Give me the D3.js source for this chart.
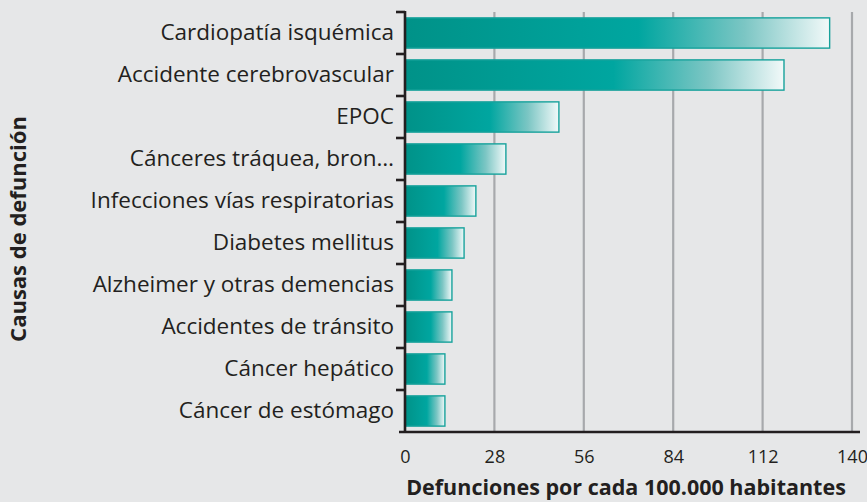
<!DOCTYPE html>
<html><head><meta charset="utf-8">
<script src="https://cdn.jsdelivr.net/npm/d3@7"></script>
<style>body{margin:0;background:#e6e7e8;}svg{display:block;}</style>
</head><body>
<svg id="c" width="867" height="502"></svg>
<script>
const categories = ["Cardiopatía isquémica","Accidente cerebrovascular","EPOC","Cánceres tráquea, bron…","Infecciones vías respiratorias","Diabetes mellitus","Alzheimer y otras demencias","Accidentes de tránsito","Cáncer hepático","Cáncer de estómago"];
const values = [133, 118.7, 48.2, 31.6, 22.2, 18.5, 14.7, 14.7, 12.5, 12.5];
const xTicks = [0, 28, 56, 84, 112, 140];
const xTitle = "Defunciones por cada 100.000 habitantes";
const yTitle = "Causas de defunción";

(function () {
const svg = d3.select("#c");
const W = 867, H = 502;
svg.append("rect").attr("width", W).attr("height", H).attr("fill", "#e6e7e8");
const pL = 405, pR = 852, pT = 12, pB = 432;
const x = d3.scaleLinear().domain([0, 140]).range([pL, pR]);
const y = d3.scaleBand().domain(categories).range([pT, pB]).paddingInner(0.28).paddingOuter(0.14);
const font = "'Open Sans', sans-serif";

const defs = svg.append("defs");
const g = defs.append("linearGradient").attr("id", "bg").attr("x1", "0").attr("x2", "1").attr("y1", "0").attr("y2", "0");
[[0, "#009288"], [0.55, "#00a6a0"], [0.8, "#7cc6c4"], [1, "#f2f9f9"]].forEach(s => g.append("stop").attr("offset", s[0]).attr("stop-color", s[1]));

svg.append("g").selectAll("line").data(xTicks.filter(d => d > 0)).join("line")
  .attr("x1", d => x(d)).attr("x2", d => x(d)).attr("y1", pT).attr("y2", pB)
  .attr("stroke", "#a7a9ac").attr("stroke-width", 2.2);

svg.append("g").selectAll("rect").data(categories).join("rect")
  .attr("x", x(0)).attr("y", d => y(d)).attr("height", y.bandwidth())
  .attr("width", (d, i) => x(values[i]) - x(0))
  .attr("fill", "url(#bg)").attr("stroke", "#17a29c").attr("stroke-width", 1.4);

const xa = svg.append("g").attr("transform", `translate(0,${pB})`)
  .call(d3.axisBottom(x).tickValues(xTicks).tickSize(0).tickPadding(18).tickFormat(d3.format("d")));
xa.select(".domain").remove();
xa.selectAll("text").attr("font-family", font).attr("font-size", 18).attr("fill", "#231f20");
svg.append("line").attr("x1", 399).attr("x2", 860).attr("y1", pB).attr("y2", pB)
  .attr("stroke", "#231f20").attr("stroke-width", 2.6);

const ya = svg.append("g").attr("transform", `translate(${pL},0)`)
  .call(d3.axisLeft(y).tickSize(0).tickPadding(11));
ya.select(".domain").remove();
ya.selectAll("text").attr("font-family", font).attr("font-size", 22.5).attr("fill", "#231f20");
svg.append("line").attr("x1", pL).attr("x2", pL).attr("y1", pT - 1).attr("y2", pB)
  .attr("stroke", "#231f20").attr("stroke-width", 2.6);
const step = y.step();
const bounds = d3.range(categories.length).map(i => pT + i * step);
svg.append("g").selectAll("line").data(bounds).join("line")
  .attr("x1", pL - 9).attr("x2", pL).attr("y1", d => d).attr("y2", d => d)
  .attr("stroke", "#231f20").attr("stroke-width", 2.6);

svg.append("text").attr("x", 626).attr("y", 495).attr("text-anchor", "middle")
  .attr("font-family", font).attr("font-weight", "bold").attr("font-size", 21.5).attr("fill", "#231f20").text(xTitle);
svg.append("text").attr("transform", "translate(26,229) rotate(-90)").attr("text-anchor", "middle")
  .attr("font-family", font).attr("font-weight", "bold").attr("font-size", 22).attr("fill", "#231f20").text(yTitle);
})();
</script>
</body></html>
